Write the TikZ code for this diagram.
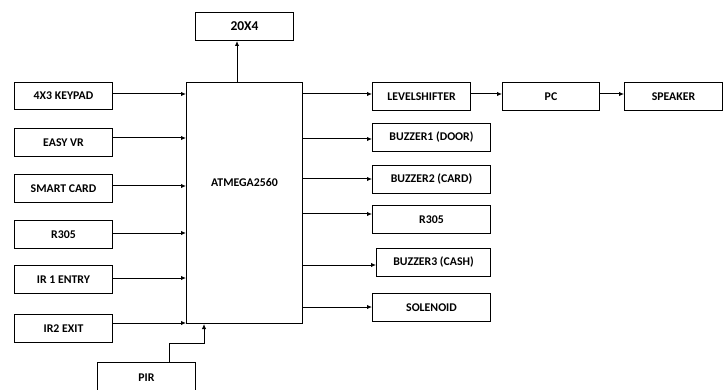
\documentclass[tikz,border=0pt]{standalone}
\usepackage{fontspec}
\setmainfont{Carlito}
\usetikzlibrary{arrows.meta}
\tikzset{
  blk/.style={draw, line width=1pt, inner sep=0pt, font=\bfseries\fontsize{11.8}{13}\selectfont, anchor=north west},
  conn/.style={line width=1pt, -{Latex[length=5pt,width=4.5pt]}},
}
\newcommand{\blkat}[6]{% name, x1, y1, x2, y2, text
  \node[blk, minimum width=#4-#2, minimum height=#5-#3] (#1) at (#2,#3) {#6};}
\begin{document}
\begin{tikzpicture}[x=1pt,y=-1pt]
\useasboundingbox (0,0) rectangle (728,390);
\clip (0,0) rectangle (728,390);
% main
\node[blk, minimum width=116pt, minimum height=241pt,
  label={[font=\bfseries\fontsize{11.8}{13}\selectfont, yshift=20.5pt]center:ATMEGA2560}] (mcu) at (186,82) {};
\node[blk, minimum width=98pt, minimum height=28pt, font=\bfseries\fontsize{13.5}{15}\selectfont] (lcd) at (195,12) {20X4};
% left inputs
\blkat{kp}{14}{82}{112}{109}{4X3 KEYPAD}
\blkat{vr}{14}{128}{112}{156}{EASY VR}
\blkat{sc}{14}{174}{112}{202}{SMART CARD}
\blkat{rl}{14}{220}{112}{248}{R305}
\blkat{ir1}{14}{265}{112}{293}{IR 1 ENTRY}
\blkat{ir2}{14}{314}{112}{342}{IR2 EXIT}
\blkat{pir}{97}{362}{195}{392}{PIR}
% right outputs
\blkat{ls}{372}{82}{470}{110}{LEVELSHIFTER}
\blkat{pc}{502}{82}{599}{110}{PC}
\blkat{spk}{624}{82}{722}{110}{SPEAKER}
\blkat{bz1}{372}{123}{490}{151}{BUZZER1 (DOOR)}
\blkat{bz2}{372}{165}{490}{193}{BUZZER2 (CARD)}
\blkat{rr}{372}{205}{490}{233}{R305}
\blkat{bz3}{376}{248}{490}{276}{BUZZER3 (CASH)}
\blkat{sol}{372}{293}{490}{321}{SOLENOID}
% connectors
\draw[conn] (mcu.north -| 237,0) -- (lcd.south -| 237,0);
\draw[conn] (kp.east |- 0,94) -- (mcu.west |- 0,94);
\draw[conn] (vr.east |- 0,138) -- (mcu.west |- 0,138);
\draw[conn] (sc.east |- 0,186) -- (mcu.west |- 0,186);
\draw[conn] (rl.east |- 0,233) -- (mcu.west |- 0,233);
\draw[conn] (ir1.east |- 0,278) -- (mcu.west |- 0,278);
\draw[conn] (ir2.east |- 0,323) -- (mcu.west |- 0,323);
\draw[conn] (pir.north -| 169,0) |- (204,343) -- (mcu.south -| 204,0);
\draw[conn] (mcu.east |- 0,94) -- (ls.west |- 0,94);
\draw[conn] (ls.east |- 0,94) -- (pc.west |- 0,94);
\draw[conn] (pc.east |- 0,94) -- (spk.west |- 0,94);
\draw[conn] (mcu.east |- 0,139) -- (bz1.west |- 0,139);
\draw[conn] (mcu.east |- 0,179) -- (bz2.west |- 0,179);
\draw[conn] (mcu.east |- 0,214) -- (rr.west |- 0,214);
\draw[conn] (mcu.east |- 0,265) -- (bz3.west |- 0,265);
\draw[conn] (mcu.east |- 0,307) -- (sol.west |- 0,307);
\end{tikzpicture}
\end{document}
